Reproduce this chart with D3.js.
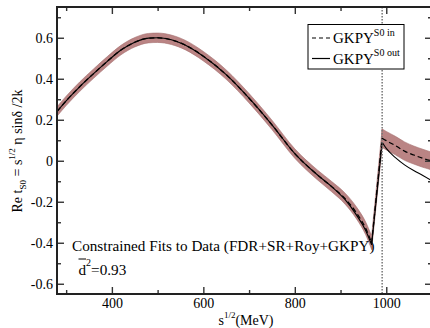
<!DOCTYPE html>
<html><head><meta charset="utf-8">
<script src="https://cdn.jsdelivr.net/npm/d3@7"></script>
<style>
html,body{margin:0;padding:0;background:#fff;}
</style></head>
<body><svg id="c" width="430" height="328"></svg>
<script>
// ---- data ----
const sqrtS = [280,300,330,360,390,420,450,480,500,530,560,600,650,700,750,800,850,880,910,935,955,968,991,1000,1020,1040,1060,1080,1100];
const gkpyIn  = [0.24,0.292,0.362,0.425,0.485,0.54,0.578,0.598,0.600,0.59,0.565,0.51,0.42,0.305,0.175,0.035,-0.07,-0.125,-0.185,-0.255,-0.33,-0.40,0.11,0.098,0.074,0.047,0.028,0.012,-0.002];
const gkpyOut = [0.24,0.292,0.362,0.425,0.485,0.54,0.578,0.598,0.600,0.59,0.565,0.51,0.42,0.305,0.175,0.035,-0.07,-0.125,-0.19,-0.265,-0.34,-0.41,0.09,0.06,0.015,-0.02,-0.048,-0.072,-0.098];
const bandErr = [0.023,0.023,0.023,0.023,0.023,0.023,0.023,0.023,0.023,0.023,0.023,0.023,0.023,0.023,0.023,0.023,0.024,0.025,0.027,0.029,0.031,0.033,0.045,0.045,0.045,0.045,0.044,0.044,0.043];
const kinks = [968, 991];
const thresholdKK = 991;
const xMajorTicks = [400,600,800,1000];
const xMinorTicks = [300,500,700,900,1100];
const yMajorTicks = [-0.6,-0.4,-0.2,0,0.2,0.4,0.6];
const yMinorTicks = [-0.5,-0.3,-0.1,0.1,0.3,0.5,0.7];
const legendLabels = [{sup:"S0 in", dash:true},{sup:"S0 out", dash:false}];
const annotation = "Constrained Fits to Data (FDR+SR+Roy+GKPY)";
const chi2Value = "=0.93";

const FONT = "'Liberation Serif', 'Times New Roman', Times, serif";

// ---- layout ----
const L=57, R=432, T=7, B=294;
const x = d3.scaleLinear().domain([280,1100]).range([L,R]);
const y = d3.scaleLinear().domain([-0.65,0.75]).range([B,T]);
const svg = d3.select("#c");

svg.append("clipPath").attr("id","clp").append("rect")
  .attr("x",L).attr("y",T).attr("width",R-L).attr("height",B-T);
const plot = svg.append("g").attr("clip-path","url(#clp)");

function segments(pts){
  const segs=[]; let cur=[];
  pts.forEach(p=>{cur.push(p); if(kinks.includes(p.s)){segs.push(cur); cur=[p];}});
  if(cur.length>1) segs.push(cur);
  return segs;
}
const pts = sqrtS.map((s,i)=>({s, vin:gkpyIn[i], vout:gkpyOut[i], e:bandErr[i]}));
const segs = segments(pts);
const curveFor = seg => seg.length>2 ? d3.curveMonotoneX : d3.curveLinear;

segs.forEach(seg=>{
  plot.append("path")
    .attr("d", d3.area().x(d=>x(d.s)).y0(d=>y(d.vin-d.e)).y1(d=>y(d.vin+d.e)).curve(curveFor(seg))(seg))
    .attr("fill","#ba8484").attr("stroke","#a56e6e").attr("stroke-width",0.6);
});

svg.append("line").attr("x1",x(thresholdKK)).attr("x2",x(thresholdKK)).attr("y1",T).attr("y2",B)
  .attr("stroke","#777").attr("stroke-width",1.5).attr("stroke-dasharray","1.6,1.4");

segs.forEach(seg=>{
  plot.append("path")
    .attr("d", d3.line().x(d=>x(d.s)).y(d=>y(d.vout)).curve(curveFor(seg))(seg))
    .attr("fill","none").attr("stroke","#000").attr("stroke-width",1.1);
  plot.append("path")
    .attr("d", d3.line().x(d=>x(d.s)).y(d=>y(d.vin)).curve(curveFor(seg))(seg))
    .attr("fill","none").attr("stroke","#000").attr("stroke-width",1.3).attr("stroke-dasharray","5,3");
});

const fmtY = d => d===0 ? "0" : d.toFixed(1).replace("\u2212","-");
function styleAxis(g){ g.attr("font-family",null).attr("font-size",null); g.select(".domain").remove(); g.selectAll("line").attr("stroke","#333").attr("stroke-width",1.4); g.selectAll("text").attr("font-size",14); }
svg.append("g").attr("transform",`translate(0,${B})`).call(d3.axisBottom(x).tickValues(xMajorTicks).tickSize(-7).tickPadding(4).tickFormat(d3.format("d"))).call(styleAxis);
svg.append("g").attr("transform",`translate(0,${B})`).call(d3.axisBottom(x).tickValues(xMinorTicks).tickSize(-4).tickFormat("")).call(styleAxis);
svg.append("g").attr("transform",`translate(0,${T})`).call(d3.axisTop(x).tickValues(xMajorTicks).tickSize(-7).tickFormat("")).call(styleAxis);
svg.append("g").attr("transform",`translate(0,${T})`).call(d3.axisTop(x).tickValues(xMinorTicks).tickSize(-4).tickFormat("")).call(styleAxis);
svg.append("g").attr("transform",`translate(${L},0)`).call(d3.axisLeft(y).tickValues(yMajorTicks).tickSize(-7).tickPadding(4).tickFormat(fmtY)).call(styleAxis);
svg.append("g").attr("transform",`translate(${L},0)`).call(d3.axisLeft(y).tickValues(yMinorTicks).tickSize(-4).tickFormat("")).call(styleAxis);
svg.append("g").attr("transform",`translate(${R},0)`).call(d3.axisRight(y).tickValues(yMajorTicks).tickSize(-7).tickFormat("")).call(styleAxis);
svg.append("g").attr("transform",`translate(${R},0)`).call(d3.axisRight(y).tickValues(yMinorTicks).tickSize(-4).tickFormat("")).call(styleAxis);

svg.append("rect").attr("x",L).attr("y",T).attr("width",R-L).attr("height",B-T)
  .attr("fill","none").attr("stroke","#222").attr("stroke-width",2);

const xt = svg.append("text").attr("x",246).attr("y",325).attr("text-anchor","middle").attr("font-size",14);
xt.append("tspan").text("s");
xt.append("tspan").attr("font-size",9).attr("dy",-7).text("1/2");
xt.append("tspan").attr("dy",7).text("(MeV)");

const yt = svg.append("text").attr("transform","translate(22,151) rotate(-90)").attr("text-anchor","middle").attr("font-size",14);
yt.append("tspan").text("Re t");
yt.append("tspan").attr("font-size",9).attr("dy",4).text("S0");
yt.append("tspan").attr("dy",-4).text(" = s");
yt.append("tspan").attr("font-size",9).attr("dy",-7).text("1/2");
yt.append("tspan").attr("dy",7).text(" \u03B7 sin\u03B4 /2k");

const lg = svg.append("g");
lg.append("rect").attr("x",308).attr("y",24.5).attr("width",96).attr("height",44.5).attr("fill","#fff").attr("stroke","#000").attr("stroke-width",1);
legendLabels.forEach((d,i)=>{
  const yy = 38 + i*20.5;
  lg.append("line").attr("x1",312).attr("x2",330).attr("y1",yy).attr("y2",yy).attr("stroke","#000").attr("stroke-width",1.2).attr("stroke-dasharray",d.dash?"4,3":null);
  const t = lg.append("text").attr("x",333).attr("y",yy+5).attr("font-size",15);
  t.append("tspan").text("GKPY");
  t.append("tspan").attr("font-size",10).attr("dy",-7.5).text(d.sup);
});

svg.append("text").attr("x",72).attr("y",251).attr("font-size",15.2).text(annotation);
const ct = svg.append("text").attr("x",78.5).attr("y",275).attr("font-size",15.2);
ct.append("tspan").text("d");
ct.append("tspan").attr("font-size",10).attr("dy",-9.5).text("2");
ct.append("tspan").attr("dy",9.5).text(chi2Value);
svg.append("line").attr("x1",78.5).attr("x2",86).attr("y1",259).attr("y2",259).attr("stroke","#000").attr("stroke-width",1);

svg.selectAll("text").style("font-family", FONT).attr("fill","#000");
</script></body></html>
